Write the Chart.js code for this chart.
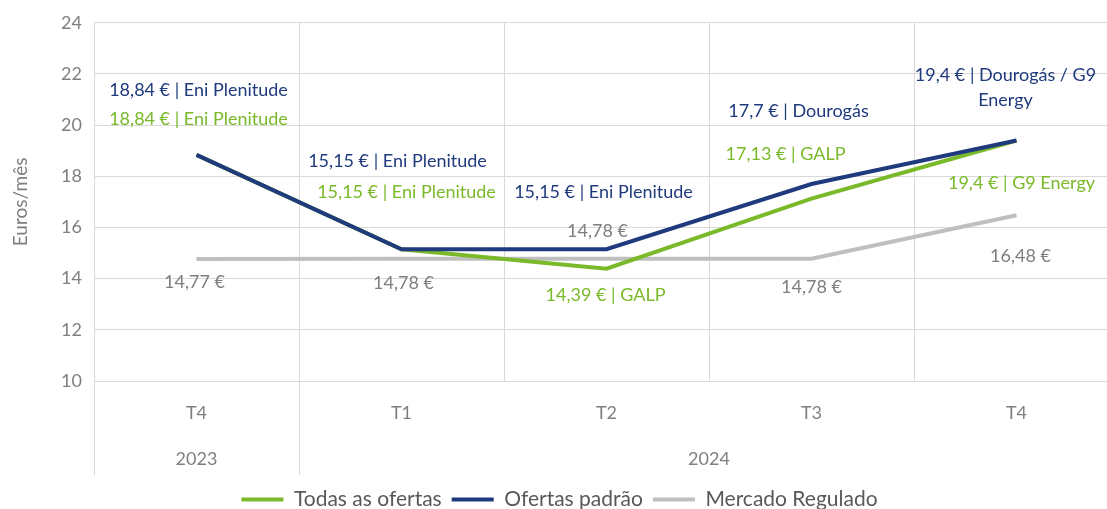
<!DOCTYPE html>
<html>
<head>
<meta charset="utf-8">
<script src="https://cdn.jsdelivr.net/npm/chart.js@4"></script>
<style>
  html, body { margin: 0; padding: 0; background: #fff; overflow: hidden; }
  #wrap { width: 1107px; height: 509px; overflow: hidden; }
</style>
</head>
<body>
<div id="wrap"><canvas id="chart" width="1120" height="520"></canvas></div>
<script>
const categories = ['T4', 'T1', 'T2', 'T3', 'T4'];
const years = ['2023', '2024'];
const yearStart = [0, 1];
const yearEnd = [0, 4];
const yTicks = [10, 12, 14, 16, 18, 20, 22, 24];

const todasOfertas = [18.84, 15.15, 14.39, 17.13, 19.4];
const ofertasPadrao = [18.84, 15.15, 15.15, 17.7, 19.4];
const mercadoRegulado = [14.77, 14.78, 14.78, 14.78, 16.48];

const todasLabels = ['18,84 € | Eni Plenitude', '15,15 € | Eni Plenitude', '14,39 € | GALP', '17,13 € | GALP', '19,4 € | G9 Energy'];
const padraoLabels = ['18,84 € | Eni Plenitude', '15,15 € | Eni Plenitude', '15,15 € | Eni Plenitude', '17,7 € | Dourogás', ['19,4 € | Dourogás / G9', 'Energy']];
const reguladoLabels = ['14,77 €', '14,78 €', '14,78 €', '14,78 €', '16,48 €'];

// label placement relative to each point (px)
const todasOffsets = [[2, -36], [5, -57], [-1, 27], [-26, -44], [5, 43]];
const padraoOffsets = [[2, -65], [-4, -88], [-3, -57], [-13, -73], [-11, -65]];
const reguladoOffsets = [[-2, 23], [2, 24], [-9, -28], [0, 28], [4, 41]];

const GREEN = '#7ab929';
const BLUE = '#1f3a7d';
const GRAY = '#bfbfbf';
const TEXT = '#7f7f7f';
const GRID = '#d9d9d9';
const FONT = 'Lato, "Open Sans", sans-serif';

const pointLabels = {
    id: 'pointLabels',
    afterDatasetsDraw(chart) {
        const ctx = chart.ctx;
        ctx.save();
        ctx.font = '18px ' + FONT;
        ctx.textAlign = 'center';
        ctx.textBaseline = 'middle';
        chart.data.datasets.forEach((ds, di) => {
            const meta = chart.getDatasetMeta(di);
            ctx.fillStyle = ds.labelColor;
            meta.data.forEach((pt, i) => {
                const off = ds.labelOffsets[i];
                let lines = ds.pointLabels[i];
                if (!Array.isArray(lines)) lines = [lines];
                lines.forEach((line, li) => {
                    ctx.fillText(line, pt.x + off[0], pt.y + off[1] + li * 25);
                });
            });
        });
        ctx.restore();
    }
};

const yearAxis = {
    id: 'yearAxis',
    afterDraw(chart) {
        const ctx = chart.ctx;
        const x = chart.scales.x;
        const bottom = chart.chartArea.bottom;
        const step = x.width / categories.length;
        ctx.save();
        ctx.strokeStyle = GRID;
        ctx.lineWidth = 1;
        ctx.fillStyle = TEXT;
        ctx.font = '18px ' + FONT;
        ctx.textAlign = 'center';
        ctx.textBaseline = 'middle';
        years.forEach((yr, i) => {
            const left = x.getPixelForValue(yearStart[i]) - step / 2;
            const right = x.getPixelForValue(yearEnd[i]) + step / 2;
            [left, right].forEach(px => {
                ctx.beginPath();
                ctx.moveTo(Math.round(px) + 0.5, bottom);
                ctx.lineTo(Math.round(px) + 0.5, bottom + 94);
                ctx.stroke();
            });
            ctx.fillText(yr, (left + right) / 2, bottom + 78);
        });
        ctx.restore();
    }
};

new Chart(document.getElementById('chart'), {
    type: 'line',
    data: {
        labels: categories,
        datasets: [
            {
                label: 'Todas as ofertas',
                data: todasOfertas,
                borderColor: GREEN,
                backgroundColor: GREEN,
                pointLabels: todasLabels,
                labelOffsets: todasOffsets,
                labelColor: GREEN,
                order: 1
            },
            {
                label: 'Ofertas padrão',
                data: ofertasPadrao,
                borderColor: BLUE,
                backgroundColor: BLUE,
                pointLabels: padraoLabels,
                labelOffsets: padraoOffsets,
                labelColor: BLUE,
                order: 0
            },
            {
                label: 'Mercado Regulado',
                data: mercadoRegulado,
                borderColor: GRAY,
                backgroundColor: GRAY,
                pointLabels: reguladoLabels,
                labelOffsets: reguladoOffsets,
                labelColor: TEXT,
                order: 2
            }
        ]
    },
    options: {
        responsive: false,
        animation: false,
        layout: { padding: { top: 22, right: 1, left: 0, bottom: 0 } },
        elements: {
            line: { borderWidth: 4, tension: 0 },
            point: { radius: 0, hoverRadius: 0 }
        },
        plugins: {
            tooltip: { enabled: false },
            legend: {
                position: 'bottom',
                labels: {
                    font: { family: FONT, size: 21 },
                    color: '#595959',
                    boxWidth: 42,
                    boxHeight: 4,
                    padding: 10,
                    generateLabels: chart => Chart.defaults.plugins.legend.labels.generateLabels(chart)
                        .map(item => Object.assign(item, { lineWidth: 0 })),
                    sort: (a, b) => a.datasetIndex - b.datasetIndex
                }
            }
        },
        scales: {
            x: {
                offset: true,
                grid: { color: GRID, offset: true, drawTicks: false },
                border: { color: GRID },
                ticks: { color: TEXT, font: { family: FONT, size: 18 }, padding: 21 },
                afterFit: scale => { scale.height = 98; }
            },
            y: {
                min: 10,
                max: 24,
                afterBuildTicks: scale => { scale.ticks = yTicks.map(v => ({ value: v })); },
                grid: { color: GRID, drawTicks: false },
                border: { color: GRID },
                ticks: { color: TEXT, font: { family: FONT, size: 18 }, padding: 12 },
                title: {
                    display: true,
                    text: 'Euros/mês',
                    color: TEXT,
                    font: { family: FONT, size: 19 },
                    padding: { top: 9, bottom: 0 }
                },
                afterFit: scale => { scale.width = 94; }
            }
        }
    },
    plugins: [pointLabels, yearAxis]
});
</script>
</body>
</html>
